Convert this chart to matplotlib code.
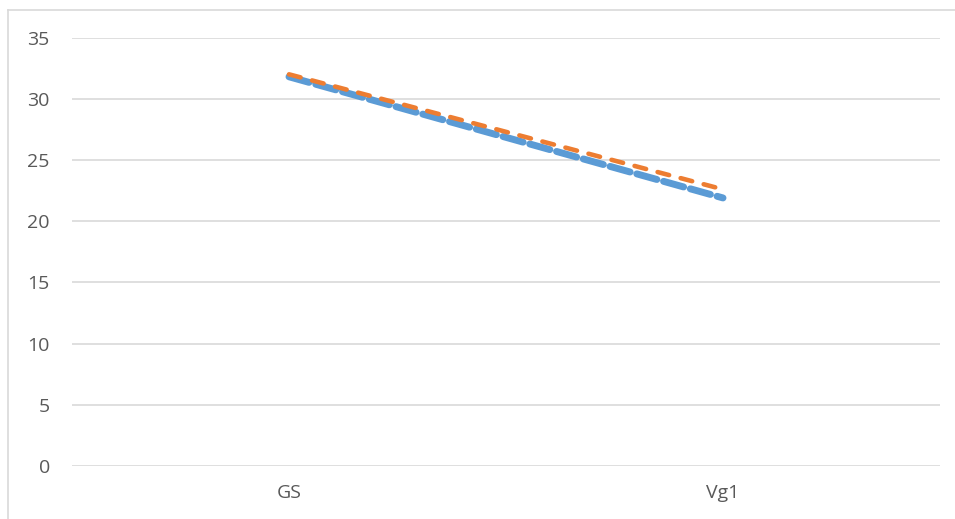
import matplotlib.pyplot as plt
from matplotlib.lines import Line2D

categories = ['GS', 'Vg1']
series_a = [31.8, 21.9]   # blue
series_b = [32.0, 22.6]   # orange
yticks = [0, 5, 10, 15, 20, 25, 30, 35]

plt.rcParams['font.family'] = ['Open Sans', 'DejaVu Sans']

fig = plt.figure(figsize=(9.55, 5.19), dpi=100)
ax = fig.add_axes([72 / 955, 1 - 466 / 519, (940 - 72) / 955, (466 - 37.6) / 519])

x = list(range(len(categories)))
ax.plot(x, series_a, color='#5B9BD5', lw=5.0, linestyle=(0, (3.0, 1.0)),
        dash_capstyle='round', solid_capstyle='round', zorder=3)
ax.plot(x, series_b, color='#ED7D31', lw=3.3, linestyle=(0, (2.6, 2.6)),
        dash_capstyle='round', zorder=4)

ax.set_xlim(-0.5, len(categories) - 0.5)
ax.set_ylim(0, 35)
ax.set_yticks(yticks)
ax.set_xticks(x)
ax.set_xticklabels(categories)
ax.grid(axis='y', color='#D9D9D9', lw=1.2)
ax.set_axisbelow(True)
for s in ax.spines.values():
    s.set_visible(False)
ax.tick_params(axis='both', length=0, labelsize=14, labelcolor='#595959')
ax.tick_params(axis='y', pad=16)
ax.tick_params(axis='x', pad=13)

# chart area frame (top and left edges)
fig.add_artist(Line2D([8 / 955, 8 / 955], [0, 1 - 10 / 519], transform=fig.transFigure,
                      color='#D9D9D9', lw=1.2))
fig.add_artist(Line2D([8 / 955, 1], [1 - 10 / 519, 1 - 10 / 519], transform=fig.transFigure,
                      color='#D9D9D9', lw=1.2))

fig.savefig('out.png', dpi=100)
